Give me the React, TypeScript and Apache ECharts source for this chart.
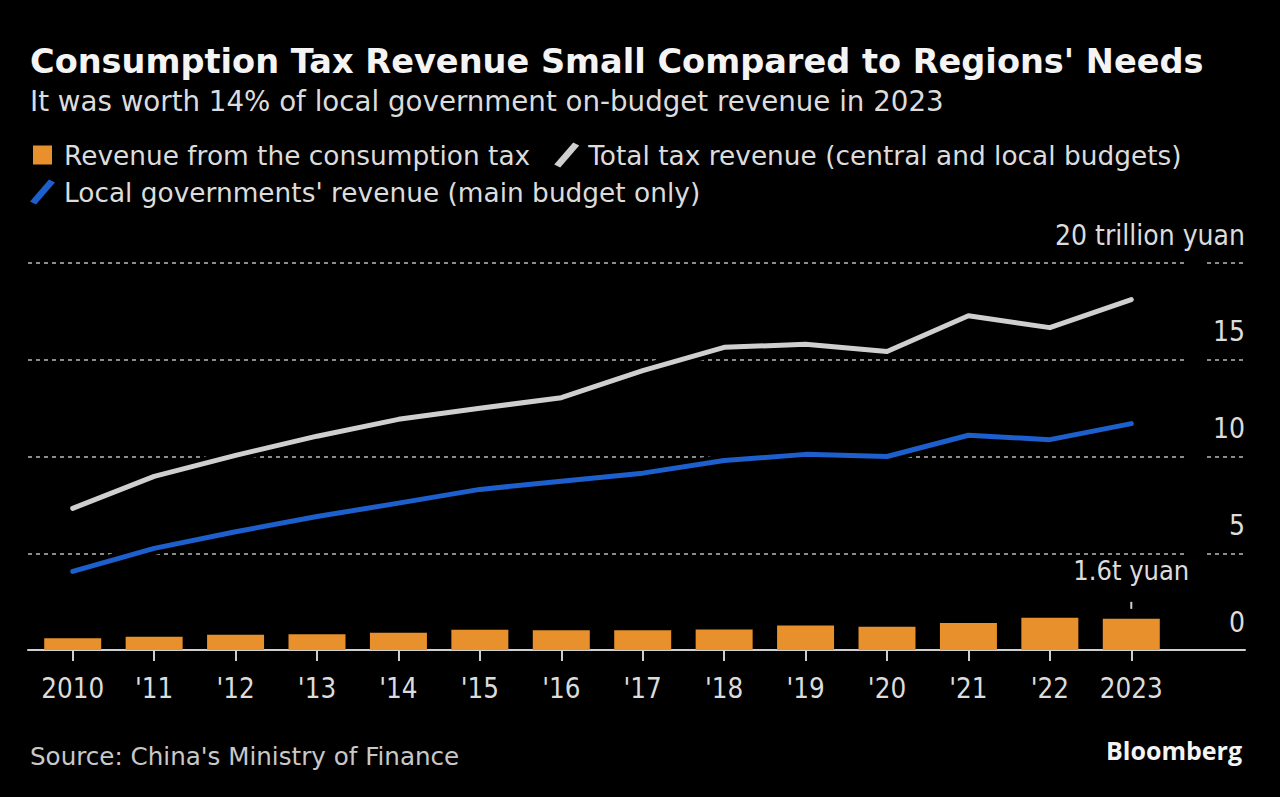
import React, { useEffect, useRef } from "react";
import * as echarts from "echarts";

const years = ["2010", "'11", "'12", "'13", "'14", "'15", "'16", "'17", "'18", "'19", "'20", "'21", "'22", "2023"];
const consumptionTax = [0.61, 0.69, 0.79, 0.82, 0.89, 1.05, 1.02, 1.02, 1.06, 1.26, 1.2, 1.39, 1.67, 1.61];
const totalTax = [7.32, 8.97, 10.06, 11.05, 11.92, 12.49, 13.04, 14.44, 15.64, 15.8, 15.43, 17.27, 16.66, 18.11];
const localRevenue = [4.06, 5.25, 6.11, 6.9, 7.59, 8.3, 8.72, 9.14, 9.79, 10.11, 10.0, 11.1, 10.87, 11.7];
const yTicks = [0, 5, 10, 15, 20];

const NAME_BAR = "Revenue from the consumption tax";
const NAME_TOTAL = "Total tax revenue (central and local budgets)";
const NAME_LOCAL = "Local governments' revenue (main budget only)";

const FONT = "'DejaVu Sans', sans-serif";
const FONT_C = "'DejaVu Sans Condensed', 'DejaVu Sans', sans-serif";
const TEXT = "#dcdcdc";
const ORANGE = "#e8902c";
const GREY = "#cfcfcf";
const BLUE = "#1d5fcc";
const GRID = "#8c8c8c";

const SLASH = "path://M19,0 L25,3 L6,25 L0,22 Z";
const SQUARE = "path://M3,3 L22,3 L22,22 L3,22 Z M0,0 L0,0 M25,25 L25,25";

export default function App() {
  const ref = useRef<HTMLDivElement>(null);
  useEffect(() => {
    if (!ref.current) return;
    const chart = echarts.init(ref.current, null, { renderer: "svg" });
    const last = consumptionTax.length - 1;
    const yMax = yTicks[yTicks.length - 1];
    const top = 263;
    const height = 387;
    chart.setOption({
      animation: false,
      backgroundColor: "#000",
      textStyle: { fontFamily: FONT },
      title: [
        {
          text: "Consumption Tax Revenue Small Compared to Regions' Needs",
          left: 25,
          top: 39,
          textStyle: { color: "#f4f4f4", fontSize: 33.6, fontWeight: "bold", fontFamily: FONT },
        },
        {
          text: "It was worth 14% of local government on-budget revenue in 2023",
          left: 25,
          top: 82,
          textStyle: { color: TEXT, fontSize: 27.7, fontWeight: "normal", fontFamily: FONT },
        },
        {
          text: "Source: China's Ministry of Finance",
          left: 25,
          top: 739,
          textStyle: { color: "#c8c8c8", fontSize: 24.6, fontWeight: "normal", fontFamily: FONT },
        },
        {
          text: "Bloomberg",
          right: 33,
          top: 732,
          textStyle: { color: "#f4f4f4", fontSize: 25, fontWeight: "bold", fontFamily: "'Open Sans', sans-serif" },
        },
      ],
      legend: [
        {
          left: 25,
          top: 137,
          itemWidth: 25,
          itemHeight: 25,
          itemGap: 24,
          selectedMode: false,
          textStyle: { color: TEXT, fontSize: 26.4, fontFamily: FONT, padding: [0, 0, 0, 4] },
          data: [
            { name: NAME_BAR, icon: SQUARE },
            { name: NAME_TOTAL, icon: SLASH },
          ],
        },
        {
          left: 25,
          top: 174,
          itemWidth: 25,
          itemHeight: 25,
          selectedMode: false,
          textStyle: { color: TEXT, fontSize: 26.4, fontFamily: FONT, padding: [0, 0, 0, 4] },
          data: [{ name: NAME_LOCAL, icon: SLASH }],
        },
      ],
      grid: [
        { left: 32, width: 1140, top, height },
        { left: 28, width: 1160, top, height },
        { left: 1207, width: 38, top, height },
        { left: 28, width: 1217, top, height },
      ],
      xAxis: [
        {
          type: "category",
          gridIndex: 0,
          data: years,
          axisLine: { show: false },
          axisTick: { show: true, alignWithLabel: true, length: 11, lineStyle: { color: GREY, width: 2 } },
          axisLabel: { color: TEXT, fontSize: 27.5, fontFamily: FONT_C, margin: 24, interval: 0 },
          splitLine: { show: false },
        },
        { type: "value", gridIndex: 1, min: 0, max: 1, show: false },
        { type: "value", gridIndex: 2, min: 0, max: 1, show: false },
        {
          type: "value",
          gridIndex: 3,
          min: 0,
          max: 1,
          axisLine: { show: true, lineStyle: { color: GREY, width: 2 } },
          axisTick: { show: false },
          axisLabel: { show: false },
          splitLine: { show: false },
        },
      ],
      yAxis: [
        { type: "value", gridIndex: 0, min: 0, max: yMax, interval: 5, show: false },
        {
          type: "value",
          gridIndex: 1,
          min: 0,
          max: yMax,
          interval: 5,
          axisLine: { show: false },
          axisTick: { show: false },
          axisLabel: { show: false },
          splitLine: { show: true, lineStyle: { color: GRID, width: 2, type: [4, 4] } },
        },
        {
          type: "value",
          gridIndex: 2,
          position: "right",
          min: 0,
          max: yMax,
          interval: 5,
          axisLine: { show: false },
          axisTick: { show: false },
          axisLabel: {
            show: true,
            inside: true,
            margin: 0,
            align: "right",
            verticalAlign: "bottom",
            lineHeight: 56,
            color: TEXT,
            fontSize: 28,
            fontFamily: FONT_C,
            formatter: (v: number) => (v === yMax ? `${v} trillion yuan` : `${v}`),
          },
          splitLine: { show: true, lineStyle: { color: GRID, width: 2, type: [4, 4] } },
        },
        { type: "value", gridIndex: 3, min: 0, max: 1, show: false },
      ],
      series: [
        {
          name: NAME_BAR,
          type: "bar",
          xAxisIndex: 0,
          yAxisIndex: 0,
          barWidth: "70%",
          itemStyle: { color: ORANGE },
          data: consumptionTax.map((v, i) =>
            i === last
              ? {
                  value: v,
                  label: {
                    show: true,
                    position: "top",
                    distance: 10,
                    formatter: "{a|1.6t yuan}\n{c|}\n{b|}",
                    rich: {
                      a: { color: TEXT, fontSize: 27, fontFamily: FONT_C, lineHeight: 30, align: "center" },
                      c: { height: 16, lineHeight: 16, align: "center" },
                      b: { width: 2, height: 7, lineHeight: 7, backgroundColor: GREY, align: "center" },
                    },
                  },
                }
              : v
          ),
          z: 3,
        },
        {
          name: "halo-total",
          type: "line",
          xAxisIndex: 0,
          yAxisIndex: 0,
          data: totalTax,
          symbol: "none",
          silent: true,
          lineStyle: { color: "#000", width: 13, cap: "round", join: "round" },
          z: 2,
        },
        {
          name: "halo-local",
          type: "line",
          xAxisIndex: 0,
          yAxisIndex: 0,
          data: localRevenue,
          symbol: "none",
          silent: true,
          lineStyle: { color: "#000", width: 13, cap: "round", join: "round" },
          z: 2,
        },
        {
          name: NAME_TOTAL,
          type: "line",
          xAxisIndex: 0,
          yAxisIndex: 0,
          data: totalTax,
          symbol: "none",
          itemStyle: { color: GREY },
          lineStyle: { color: GREY, width: 5, cap: "round", join: "round" },
          z: 4,
        },
        {
          name: NAME_LOCAL,
          type: "line",
          xAxisIndex: 0,
          yAxisIndex: 0,
          data: localRevenue,
          symbol: "none",
          itemStyle: { color: BLUE },
          lineStyle: { color: BLUE, width: 5, cap: "round", join: "round" },
          z: 4,
        },
      ],
    });
    return () => chart.dispose();
  }, []);
  return (
    <div
      ref={ref}
      style={{ position: "fixed", left: 0, top: 0, width: 1280, height: 797, background: "#000" }}
    />
  );
}
